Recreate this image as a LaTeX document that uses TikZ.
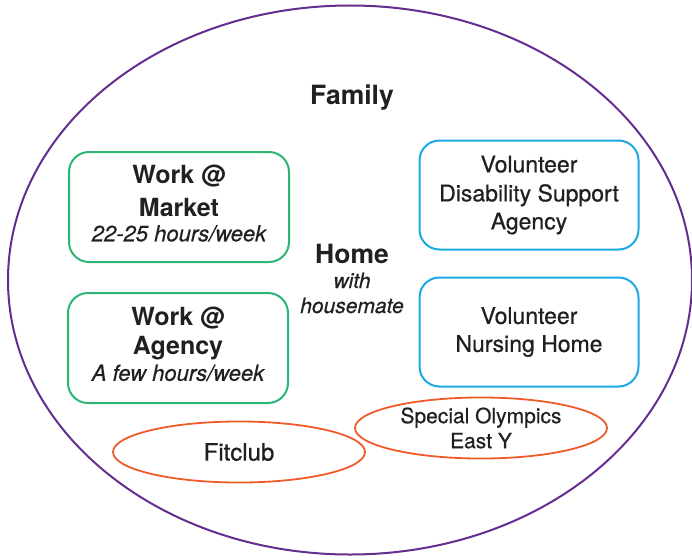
\documentclass[tikz,border=0pt]{standalone}
\usepackage{fontspec}
\setmainfont{TeX Gyre Heros}[FakeBold=0.6]
\newfontfamily\medfont{TeX Gyre Heros Bold}
\usetikzlibrary{shapes.geometric}

\definecolor{familyPurple}{HTML}{662D91}
\definecolor{workGreen}{HTML}{2BB673}
\definecolor{volBlue}{HTML}{1BA9E1}
\definecolor{clubOrange}{HTML}{F15A29}
\definecolor{inkGray}{HTML}{231F20}

% italic line under a job title
\newcommand{\hrsnote}[1]{{\normalfont\itshape\fontsize{22}{25}\selectfont #1}}

\tikzset{
  workbox/.style={draw=workGreen, line width=2pt, rounded corners=20pt,
    minimum width=220pt, minimum height=110pt, align=center, text depth=8pt,
    font=\medfont\fontsize{25}{31}\selectfont},
  volbox/.style={draw=volBlue, line width=2pt, rounded corners=20pt,
    minimum width=219pt, minimum height=109pt, align=center,
    font=\fontsize{23}{29}\selectfont},
  clubring/.style={ellipse, draw=clubOrange, line width=1.8pt, inner sep=0pt,
    minimum width=252pt, minimum height=61pt, align=center},
  title/.style={font=\medfont\fontsize{26.5}{32}\selectfont, anchor=base},
  aside/.style={font=\itshape\fontsize{21}{25}\selectfont, anchor=base}
}

\begin{document}
\begin{tikzpicture}[x=1pt, y=-1pt, text=inkGray]
  \useasboundingbox (0,0) rectangle (692,559);
  % outer circle
  \node[ellipse, draw=familyPurple, line width=2pt,
    minimum width=684pt, minimum height=549pt] (family) at (350,280) {};
  \node[title] (familyLabel) at (352,105) {Family};
  \node[title] (home) at (352,263) {Home};
  \node[aside] (with) at (352,288) {with};
  \node[aside] (housemate) at (352,313) {housemate};
  % jobs
  \node[workbox] (market) at (179,207) {Work @\\[2pt]Market\\[-6pt]\hrsnote{22-25 hours/week}};
  \node[workbox] (agency) at (178,348) {Work @\\[-2pt]Agency\\[-5pt]\hrsnote{A few hours/week}};
  % volunteering
  \node[volbox] (disability) at (529,195) {Volunteer\\Disability Support\\[-1pt]Agency};
  \node[volbox] (nursing) at (529,332) {Volunteer\\[-1pt]Nursing Home};
  % clubs
  \node[clubring, font=\fontsize{24}{28}\selectfont] (fitclub) at (239,452) {Fitclub};
  \node[clubring, font=\fontsize{21}{25}\selectfont] (olympics) at (481,428) {Special Olympics\\East Y};
\end{tikzpicture}
\end{document}
